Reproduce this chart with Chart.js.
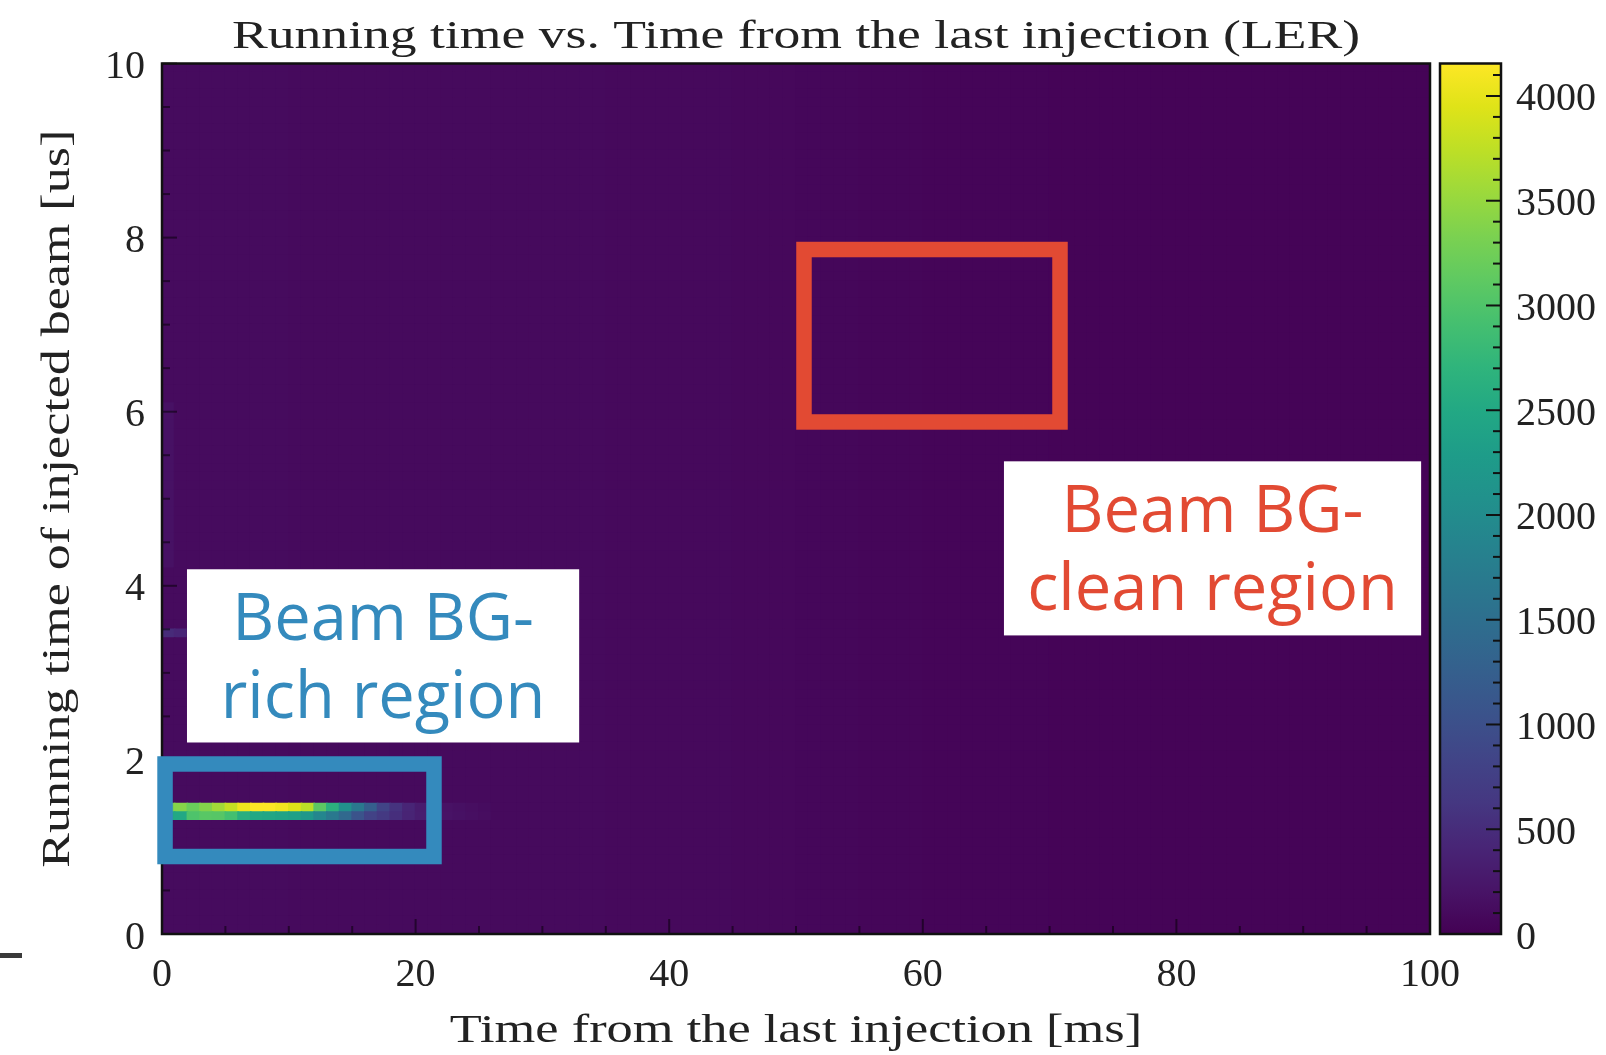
<!DOCTYPE html>
<html>
<head>
<meta charset="utf-8">
<title>Running time vs. Time from the last injection (LER)</title>
<script src="https://cdn.jsdelivr.net/npm/chart.js@4.4.1/dist/chart.umd.min.js"></script>
<style>
  html, body { margin: 0; padding: 0; background: #fff; }
  #wrap { position: relative; width: 1606px; height: 1055px; overflow: hidden; }
  #wrap canvas { position: absolute; left: 0; top: 0; }
</style>
</head>
<body>
<div id="wrap">
  <canvas id="hist" width="1606" height="1055"></canvas>
  <canvas id="cbar" width="1606" height="1055"></canvas>
</div>
<script>
// histogram binning: 1 ms in time since injection, 0.1 us in running time
const timeBinCount = 100;
const timeBinWidth = 1;
const runBinCount = 100;
const runBinHeight = 0.1;

// flat background level, one count per 5 ms slice
const backgroundCounts = [105, 105, 100, 100, 98, 96, 95, 92, 88, 80, 65, 55, 45, 40, 36, 34, 32, 30, 30, 28];

// injected bunch, running time 1.4-1.5 us (upper) and 1.3-1.4 us (lower), from 0 ms on
const bunchUpper = [3300, 3400, 3200, 3380, 3570, 3780, 4050, 4150, 4150, 4080, 3950, 3730, 3100, 2650, 2080, 1660, 1250, 830, 580, 415, 300, 230, 190, 160, 140, 120];
const bunchLower = [2500, 2500, 2990, 3070, 3050, 2900, 2600, 2500, 2450, 2400, 2350, 2200, 1900, 1660, 1400, 1050, 800, 650, 520, 400, 320, 250, 200, 170, 150, 130];

// faint echo at 3.4-3.5 us
const bunchEcho = [480, 420, 180];

// first time bin is a bit hotter between 4.2 and 6.1 us
const edgeRows = [42, 60];
const edgeCount = 170;

const timeTicks = [0, 20, 40, 60, 80, 100];
const runTicks = [0, 2, 4, 6, 8, 10];
const countTicks = [0, 500, 1000, 1500, 2000, 2500, 3000, 3500, 4000];
const countMax = 4155;

const viridis = ['#440154', '#481467', '#482576', '#453781', '#414487', '#3b528b', '#355f8d', '#2f6c8e',
  '#2a788e', '#25848e', '#21918c', '#1e9c89', '#22a884', '#2fb47c', '#44bf70', '#5ec962', '#7ad151',
  '#9bd93c', '#bddf26', '#dfe318', '#fde725'];

// region markers and their captions, in data units
const regionBoxes = [
  { x0: 0.24, x1: 21.45, y0: 0.89, y1: 1.953, color: '#348ABD' },
  { x0: 50.63, x1: 70.82, y0: 5.882, y1: 7.863, color: '#E24A33' },
];
const regionLabels = [
  { x0: 1.97, x1: 32.9, y0: 2.2, y1: 4.19, lines: ['Beam BG-', 'rich region'], color: '#348ABD' },
  { x0: 66.4, x1: 99.3, y0: 3.43, y1: 5.43, lines: ['Beam BG-', 'clean region'], color: '#E24A33' },
];

const serif = '"Liberation Serif", "Times New Roman", serif';
const tickFont = { family: serif, size: 40 };
const textColor = '#222';

function hexToRgb(hex) {
  const n = parseInt(hex.slice(1), 16);
  return [(n >> 16) & 255, (n >> 8) & 255, n & 255];
}

function viridisColor(t) {
  t = Math.min(1, Math.max(0, t));
  const pos = t * (viridis.length - 1);
  const i = Math.min(Math.floor(pos), viridis.length - 2);
  const f = pos - i;
  const a = hexToRgb(viridis[i]);
  const b = hexToRgb(viridis[i + 1]);
  const c = a.map((v, k) => Math.round(v + (b[k] - v) * f));
  return `rgb(${c[0]},${c[1]},${c[2]})`;
}

// fill the 2D histogram
const counts = [];
for (let r = 0; r < runBinCount; r++) {
  const row = [];
  for (let c = 0; c < timeBinCount; c++) row.push(backgroundCounts[Math.floor(c / 5)]);
  counts.push(row);
}
bunchUpper.forEach((v, c) => { counts[14][c] = v; });
bunchLower.forEach((v, c) => { counts[13][c] = v; });
bunchEcho.forEach((v, c) => { counts[34][c] = v; });
for (let r = edgeRows[0]; r <= edgeRows[1]; r++) counts[r][0] = edgeCount;

// one floating-bar dataset per running-time row
const datasets = counts.map((row, r) => ({
  data: row.map((v, c) => ({ x: (c + 0.5) * timeBinWidth, y: [r * runBinHeight, (r + 1) * runBinHeight] })),
  backgroundColor: row.map(v => viridisColor(v / countMax)),
}));

function drawStretched(ctx, text, x, y, stretch, rotate) {
  ctx.save();
  ctx.translate(x, y);
  if (rotate) ctx.rotate(-Math.PI / 2);
  ctx.scale(stretch, 1);
  ctx.textAlign = 'center';
  ctx.textBaseline = 'alphabetic';
  ctx.fillText(text, 0, 0);
  ctx.restore();
}

// frame and inward tick marks, matplotlib style
const frameTicks = {
  id: 'frameTicks',
  afterDatasetsDraw(chart) {
    const { ctx, chartArea: a, scales: { x, y } } = chart;
    ctx.save();
    ctx.strokeStyle = 'rgba(0,0,0,0.5)';
    ctx.lineWidth = 2;
    for (let v = 0; v <= 10; v += 0.5) {
      const py = y.getPixelForValue(v);
      const len = v % 2 === 0 ? 15 : 8;
      ctx.beginPath(); ctx.moveTo(a.left, py); ctx.lineTo(a.left + len, py); ctx.stroke();
    }
    for (let v = 0; v <= 100; v += 5) {
      const px = x.getPixelForValue(v);
      const len = v % 20 === 0 ? 15 : 8;
      ctx.beginPath(); ctx.moveTo(px, a.bottom); ctx.lineTo(px, a.bottom - len); ctx.stroke();
    }
    ctx.strokeStyle = '#111';
    ctx.lineWidth = 2.5;
    ctx.strokeRect(a.left, a.top, a.right - a.left, a.bottom - a.top);
    ctx.restore();
  }
};

const overlays = {
  id: 'overlays',
  afterDraw(chart) {
    const { ctx, chartArea: a, scales: { x, y } } = chart;
    ctx.save();
    regionBoxes.forEach(b => {
      ctx.strokeStyle = b.color;
      ctx.lineWidth = 15.5;
      const l = x.getPixelForValue(b.x0), r = x.getPixelForValue(b.x1);
      const t = y.getPixelForValue(b.y1), btm = y.getPixelForValue(b.y0);
      ctx.strokeRect(l, t, r - l, btm - t);
    });
    regionLabels.forEach(b => {
      const l = x.getPixelForValue(b.x0), r = x.getPixelForValue(b.x1);
      const t = y.getPixelForValue(b.y1), btm = y.getPixelForValue(b.y0);
      ctx.fillStyle = '#fff';
      ctx.fillRect(l, t, r - l, btm - t);
      ctx.fillStyle = b.color;
      ctx.font = '65px "Open Sans", sans-serif';
      ctx.textAlign = 'center';
      ctx.textBaseline = 'alphabetic';
      ctx.fillText(b.lines[0], (l + r) / 2, t + 71);
      ctx.fillText(b.lines[1], (l + r) / 2, t + 149);
    });

    // titles
    const cx = (a.left + a.right) / 2;
    const cy = (a.top + a.bottom) / 2;
    ctx.fillStyle = textColor;
    ctx.font = '40px ' + serif;
    drawStretched(ctx, 'Running time vs. Time from the last injection (LER)', cx, 48, 1.34, false);
    drawStretched(ctx, 'Time from the last injection [ms]', cx, 1042, 1.31, false);
    drawStretched(ctx, 'Running time of injected beam [us]', 69, cy, 1.3, true);

    // stray mark at the left margin
    ctx.fillStyle = '#3a3a3a';
    ctx.fillRect(0, 953, 22, 5);
    ctx.restore();
  }
};

new Chart(document.getElementById('hist'), {
  type: 'bar',
  data: { datasets },
  options: {
    responsive: false,
    animation: false,
    events: [],
    layout: { padding: { left: 0, top: 63.5, right: 176, bottom: 0 } },
    datasets: { bar: { grouped: false, barPercentage: 1, categoryPercentage: 1, borderWidth: 0, inflateAmount: 0.8 } },
    plugins: { legend: { display: false }, tooltip: { enabled: false } },
    scales: {
      x: {
        type: 'linear', min: 0, max: 100, offset: false,
        grid: { display: false, drawTicks: false },
        border: { display: false },
        ticks: { font: tickFont, color: textColor, padding: 17, maxRotation: 0, autoSkip: false },
        afterBuildTicks: s => { s.ticks = timeTicks.map(value => ({ value })); },
        afterFit: s => { s.height = 121; },
      },
      y: {
        type: 'linear', min: 0, max: 10,
        grid: { display: false, drawTicks: false },
        border: { display: false },
        ticks: { font: tickFont, color: textColor, padding: 17, labelOffset: 4, autoSkip: false },
        afterBuildTicks: s => { s.ticks = runTicks.map(value => ({ value })); },
        afterFit: s => { s.width = 162; },
      },
    },
  },
  plugins: [frameTicks, overlays],
});

// colour bar
const cbarFrame = {
  id: 'cbarFrame',
  afterDatasetsDraw(chart) {
    const { ctx, chartArea: a, scales: { y } } = chart;
    ctx.save();
    ctx.strokeStyle = '#111';
    ctx.lineWidth = 2;
    for (let v = 0; v <= countMax; v += 100) {
      const py = y.getPixelForValue(v);
      const len = v % 500 === 0 ? 15 : 8;
      ctx.beginPath(); ctx.moveTo(a.right, py); ctx.lineTo(a.right - len, py); ctx.stroke();
    }
    ctx.lineWidth = 2.5;
    ctx.strokeRect(a.left, a.top, a.right - a.left, a.bottom - a.top);
    ctx.restore();
  }
};

new Chart(document.getElementById('cbar'), {
  type: 'bar',
  data: {
    labels: ['counts'],
    datasets: [{
      data: [[0, countMax]],
      borderWidth: 0,
      barPercentage: 1,
      categoryPercentage: 1,
      backgroundColor: c => {
        const { ctx, chartArea, scales } = c.chart;
        if (!chartArea) return viridis[0];
        const g = ctx.createLinearGradient(0, scales.y.getPixelForValue(0), 0, scales.y.getPixelForValue(countMax));
        viridis.forEach((col, i) => g.addColorStop(i / (viridis.length - 1), col));
        return g;
      },
    }],
  },
  options: {
    responsive: false,
    animation: false,
    events: [],
    layout: { padding: { left: 1440, top: 63.5, right: 0, bottom: 121 } },
    plugins: { legend: { display: false }, tooltip: { enabled: false } },
    scales: {
      x: { display: false },
      y: {
        position: 'right', min: 0, max: countMax,
        grid: { display: false, drawTicks: false },
        border: { display: false },
        ticks: {
          font: tickFont, color: textColor, padding: 15, labelOffset: 4, autoSkip: false, includeBounds: false,
          callback: v => String(v),
        },
        afterBuildTicks: s => { s.ticks = countTicks.map(value => ({ value })); },
        afterFit: s => { s.width = 105; },
      },
    },
  },
  plugins: [cbarFrame],
});
</script>
</body>
</html>
